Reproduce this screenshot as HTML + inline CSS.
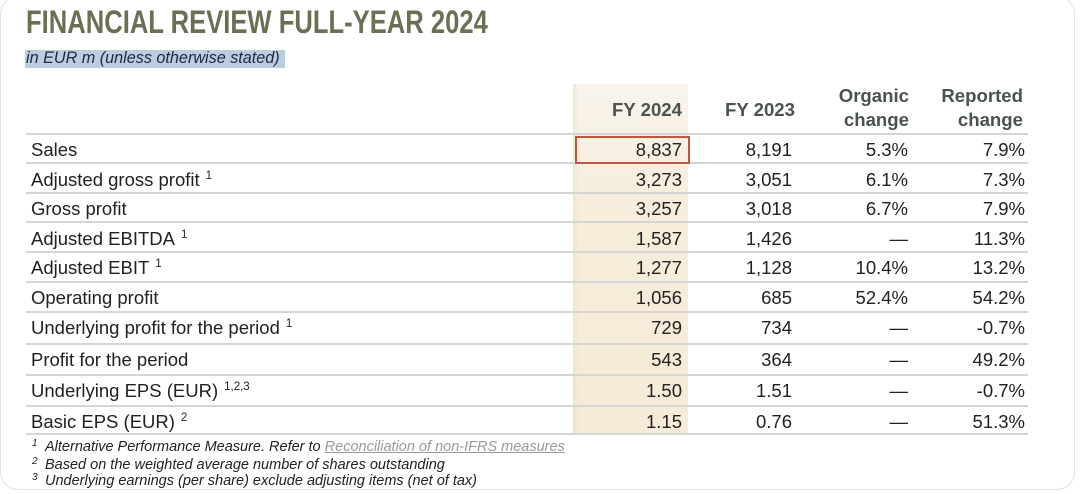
<!DOCTYPE html>
<html>
<head>
<meta charset="utf-8">
<style>
  html,body{margin:0;padding:0;background:#fff;}
  #c{position:relative;width:1080px;height:494px;overflow:hidden;background:#fff;font-family:"Liberation Sans",Arial,sans-serif;color:#222;}
  .card{position:absolute;left:0;top:-4px;width:1075px;height:494px;border:1.5px solid #e2e2e2;border-radius:18px;box-sizing:border-box;}
  .title{position:absolute;left:26px;top:2px;font-size:32px;line-height:40px;font-weight:bold;color:#6d6f55;white-space:nowrap;transform:scaleX(0.8);transform-origin:0 0;letter-spacing:0;}
  .subbg{position:absolute;left:25px;top:50px;width:260px;height:18px;background:#bacee0;}
  .sub{position:absolute;left:26px;top:49px;font-size:16.2px;line-height:18px;font-style:italic;color:#1e2742;white-space:nowrap;}
  .hl{position:absolute;left:573px;top:84px;width:115px;height:351px;background:linear-gradient(to bottom,#f8f4ec 0%,#f6eddb 35%,#f5ebd7 100%);}
  .hlr{position:absolute;left:573px;top:84px;width:6px;height:351px;background:linear-gradient(to right,rgba(235,220,190,0.5),rgba(235,220,190,0));}
  .line{position:absolute;left:26px;width:1002px;height:2px;background:#d5d5d5;}
  .red{position:absolute;left:575px;top:136px;width:115px;height:28px;border:2.5px solid #c2553e;box-sizing:border-box;}
  .t{position:absolute;font-size:18.5px;line-height:20px;white-space:nowrap;color:#222;}
  .lab{left:31px;}
  .h{position:absolute;font-size:18.6px;line-height:24px;font-weight:bold;color:#4b534e;white-space:nowrap;text-align:right;}
  .c1{right:398px;text-align:right;}
  .c2{right:288px;text-align:right;}
  .c3{right:172px;text-align:right;}
  .c4{right:55px;text-align:right;}
  sup{font-size:11.5px;vertical-align:0;position:relative;top:-7px;margin-left:6px;}
  .fn{position:absolute;left:45px;font-size:14.5px;line-height:16px;font-style:italic;color:#222;white-space:nowrap;}
  .fs{position:absolute;left:32px;font-size:10px;line-height:10px;font-style:italic;color:#222;}
  .lnk{color:#9a9a9a;text-decoration:underline;}
</style>
</head>
<body>
<div id="c">
  <div class="card"></div>
  <div class="title">FINANCIAL REVIEW FULL-YEAR 2024</div>
  <div class="subbg"></div>
  <div class="sub">in EUR m (unless otherwise stated)</div>

  <div class="hl"></div>
  <div class="hlr"></div>

  <!-- headers -->
  <div class="h" style="right:398px;top:98px;">FY 2024</div>
  <div class="h" style="right:285px;top:98px;">FY 2023</div>
  <div class="h" style="right:171px;top:84px;">Organic<br>change</div>
  <div class="h" style="right:57px;top:84px;">Reported<br>change</div>

  <!-- lines -->
  <div class="line" style="top:133px"></div>
  <div class="line" style="top:162px"></div>
  <div class="line" style="top:192px"></div>
  <div class="line" style="top:221px"></div>
  <div class="line" style="top:251px"></div>
  <div class="line" style="top:281px"></div>
  <div class="line" style="top:311px"></div>
  <div class="line" style="top:343px"></div>
  <div class="line" style="top:374px"></div>
  <div class="line" style="top:405px"></div>
  <div class="line" style="top:433px"></div>

  <div class="red"></div>

  <!-- row 1 -->
  <div class="t lab" style="top:140px">Sales</div>
  <div class="t c1" style="top:140px">8,837</div>
  <div class="t c2" style="top:140px">8,191</div>
  <div class="t c3" style="top:140px">5.3%</div>
  <div class="t c4" style="top:140px">7.9%</div>
  <!-- row 2 -->
  <div class="t lab" style="top:170px">Adjusted gross profit<sup>1</sup></div>
  <div class="t c1" style="top:170px">3,273</div>
  <div class="t c2" style="top:170px">3,051</div>
  <div class="t c3" style="top:170px">6.1%</div>
  <div class="t c4" style="top:170px">7.3%</div>
  <!-- row 3 -->
  <div class="t lab" style="top:199px">Gross profit</div>
  <div class="t c1" style="top:199px">3,257</div>
  <div class="t c2" style="top:199px">3,018</div>
  <div class="t c3" style="top:199px">6.7%</div>
  <div class="t c4" style="top:199px">7.9%</div>
  <!-- row 4 -->
  <div class="t lab" style="top:229px">Adjusted EBITDA<sup>1</sup></div>
  <div class="t c1" style="top:229px">1,587</div>
  <div class="t c2" style="top:229px">1,426</div>
  <div class="t c3" style="top:229px">—</div>
  <div class="t c4" style="top:229px">11.3%</div>
  <!-- row 5 -->
  <div class="t lab" style="top:258px">Adjusted EBIT<sup>1</sup></div>
  <div class="t c1" style="top:258px">1,277</div>
  <div class="t c2" style="top:258px">1,128</div>
  <div class="t c3" style="top:258px">10.4%</div>
  <div class="t c4" style="top:258px">13.2%</div>
  <!-- row 6 -->
  <div class="t lab" style="top:288px">Operating profit</div>
  <div class="t c1" style="top:288px">1,056</div>
  <div class="t c2" style="top:288px">685</div>
  <div class="t c3" style="top:288px">52.4%</div>
  <div class="t c4" style="top:288px">54.2%</div>
  <!-- row 7 -->
  <div class="t lab" style="top:318px">Underlying profit for the period<sup>1</sup></div>
  <div class="t c1" style="top:318px">729</div>
  <div class="t c2" style="top:318px">734</div>
  <div class="t c3" style="top:318px">—</div>
  <div class="t c4" style="top:318px">-0.7%</div>
  <!-- row 8 -->
  <div class="t lab" style="top:350px">Profit for the period</div>
  <div class="t c1" style="top:350px">543</div>
  <div class="t c2" style="top:350px">364</div>
  <div class="t c3" style="top:350px">—</div>
  <div class="t c4" style="top:350px">49.2%</div>
  <!-- row 9 -->
  <div class="t lab" style="top:381px">Underlying EPS (EUR)<sup>1,2,3</sup></div>
  <div class="t c1" style="top:381px">1.50</div>
  <div class="t c2" style="top:381px">1.51</div>
  <div class="t c3" style="top:381px">—</div>
  <div class="t c4" style="top:381px">-0.7%</div>
  <!-- row 10 -->
  <div class="t lab" style="top:412px">Basic EPS (EUR)<sup>2</sup></div>
  <div class="t c1" style="top:412px">1.15</div>
  <div class="t c2" style="top:412px">0.76</div>
  <div class="t c3" style="top:412px">—</div>
  <div class="t c4" style="top:412px">51.3%</div>

  <!-- footnotes -->
  <div class="fs" style="top:439px">1</div>
  <div class="fn" style="top:439px">Alternative Performance Measure. Refer to <span class="lnk">Reconciliation of non-IFRS measures</span></div>
  <div class="fs" style="top:457px">2</div>
  <div class="fn" style="top:457px">Based on the weighted average number of shares outstanding</div>
  <div class="fs" style="top:473px">3</div>
  <div class="fn" style="top:473px">Underlying earnings (per share) exclude adjusting items (net of tax)</div>
</div>
</body>
</html>
